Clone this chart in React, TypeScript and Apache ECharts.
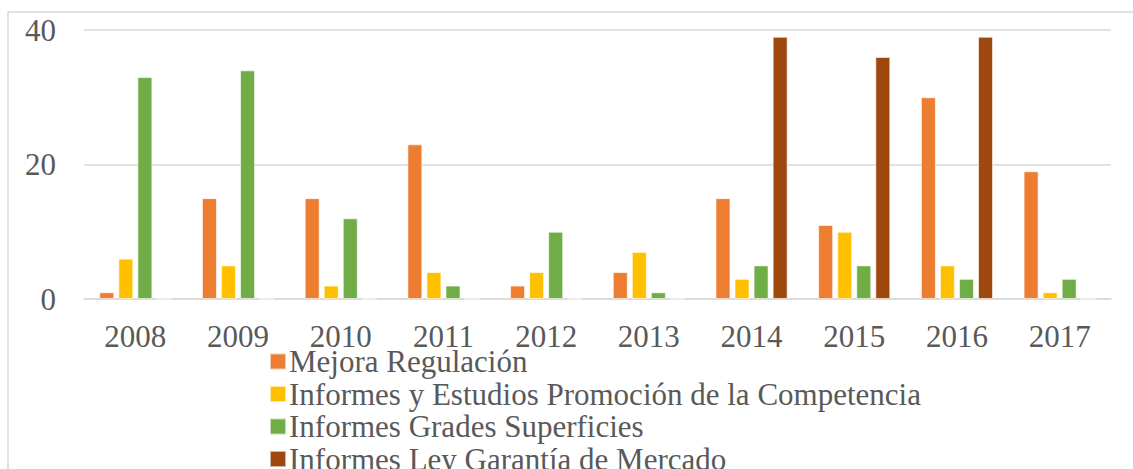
import React, { useEffect, useRef } from "react";
import * as echarts from "echarts";

const years = ["2008", "2009", "2010", "2011", "2012", "2013", "2014", "2015", "2016", "2017"];
const mejoraRegulacion = [1, 15, 15, 23, 2, 4, 15, 11, 30, 19];
const informesEstudios = [6, 5, 2, 4, 4, 7, 3, 10, 5, 1];
const gradesSuperficies = [33, 34, 12, 2, 10, 1, 5, 5, 3, 3];
const leyGarantia = [0, 0, 0, 0, 0, 0, 39, 36, 39, 0];
const seriesNames = [
  "Mejora Regulación",
  "Informes y Estudios Promoción de la Competencia",
  "Informes Grades Superficies",
  "Informes Ley Garantía de Mercado",
];
const colors = ["#ED7D31", "#FFC000", "#70AD47", "#9E480E"];

export default function App() {
  const ref = useRef<HTMLDivElement>(null);
  useEffect(() => {
    if (!ref.current) return;
    const chart = echarts.init(ref.current, null, { renderer: "svg" });
    const font = "'Liberation Serif', 'Times New Roman', serif";
    const data = [mejoraRegulacion, informesEstudios, gradesSuperficies, leyGarantia];
    chart.setOption({
      animation: false,
      color: colors,
      textStyle: { fontFamily: font },
      graphic: [
        {
          type: "rect",
          shape: { x: 8, y: 12, width: 1135, height: 470 },
          style: { fill: "none", stroke: "#d9d9d9", lineWidth: 1.5 },
          silent: true,
        },
      ],
      grid: { left: 84, right: 22, top: 30, bottom: 170, containLabel: false },
      xAxis: {
        type: "category",
        data: years,
        axisLine: { show: true, lineStyle: { color: "#d9d9d9", width: 1.5 } },
        axisTick: { show: false },
        axisLabel: { color: "#595959", fontSize: 31, fontFamily: font, margin: 22 },
      },
      yAxis: {
        type: "value",
        min: 0,
        max: 40,
        interval: 20,
        axisLine: { show: false },
        axisTick: { show: false },
        splitLine: { lineStyle: { color: "#d9d9d9", width: 1.5 } },
        axisLabel: { color: "#595959", fontSize: 31, fontFamily: font, margin: 28 },
      },
      legend: {
        orient: "vertical",
        left: 269,
        top: 346,
        height: 200,
        itemWidth: 16,
        itemHeight: 16,
        itemGap: 1.5,
        icon: "rect",
        textStyle: { color: "#595959", fontSize: 31, fontFamily: font, lineHeight: 30, padding: [0, 0, 0, -2] },
        padding: 0,
        data: seriesNames,
      },
      series: data.map((d, i) => ({
        name: seriesNames[i],
        type: "bar",
        data: d,
        barWidth: 15,
        barGap: "27%",
        itemStyle: { color: colors[i], borderColor: "rgba(255,255,255,0.6)", borderWidth: 1 },
      })),
    });
    return () => chart.dispose();
  }, []);
  return (
    <div
      ref={ref}
      style={{ position: "fixed", left: 0, top: 0, width: 1133, height: 469, background: "#fff" }}
    />
  );
}
